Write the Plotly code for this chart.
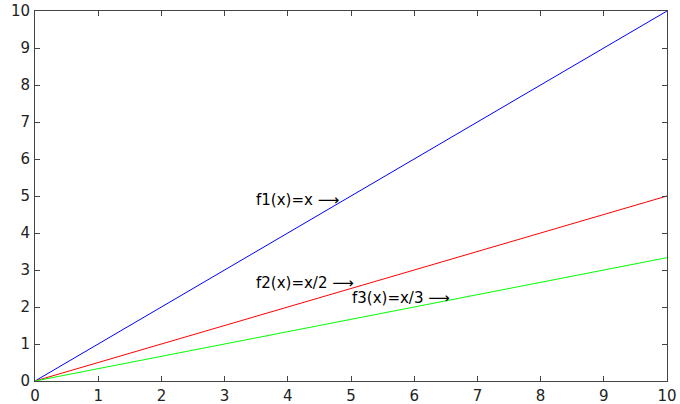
import plotly.graph_objects as go

x_vals = [0, 10]
f1_vals = [0, 10]
f2_vals = [0, 5]
f3_vals = [0, 3.333]
tick_vals = [0, 1, 2, 3, 4, 5, 6, 7, 8, 9, 10]

label_texts = ["f1(x)=x", "f2(x)=x/2", "f3(x)=x/3"]
label_x = [3.47, 3.47, 4.99]
label_y = [4.89, 2.65, 2.24]

font_family = "DejaVu Sans, Liberation Sans, sans-serif"
arrow_html = ' <span style="font-family:DejaVu Sans">⟶</span>'

fig = go.Figure()
fig.add_trace(go.Scatter(x=x_vals, y=f1_vals, mode="lines", line=dict(color="#0000ff", width=1)))
fig.add_trace(go.Scatter(x=x_vals, y=f2_vals, mode="lines", line=dict(color="#ff0000", width=1)))
fig.add_trace(go.Scatter(x=x_vals, y=f3_vals, mode="lines", line=dict(color="#00ff00", width=1)))

for t, lx, ly in zip(label_texts, label_x, label_y):
    fig.add_annotation(x=lx, y=ly, text=t + arrow_html, showarrow=False, xanchor="left", yanchor="middle",
                       font=dict(family=font_family, size=15, color="#000000"))

axis_common = dict(
    range=[0, 10], tickvals=tick_vals, ticks="inside", ticklen=5, tickcolor="#444444",
    showline=True, linecolor="#444444", linewidth=1, mirror="ticks", showgrid=False,
    zeroline=False, automargin=False,
    tickfont=dict(family=font_family, size=15, color="#222222"),
)

fig.update_layout(
    width=680, height=404,
    margin=dict(l=35, r=13, t=11, b=23),
    paper_bgcolor="white", plot_bgcolor="white",
    showlegend=False,
    xaxis=dict(**axis_common, ticklabelstandoff=1),
    yaxis=dict(**axis_common, ticklabelstandoff=1),
)

fig.write_html("out.html")
